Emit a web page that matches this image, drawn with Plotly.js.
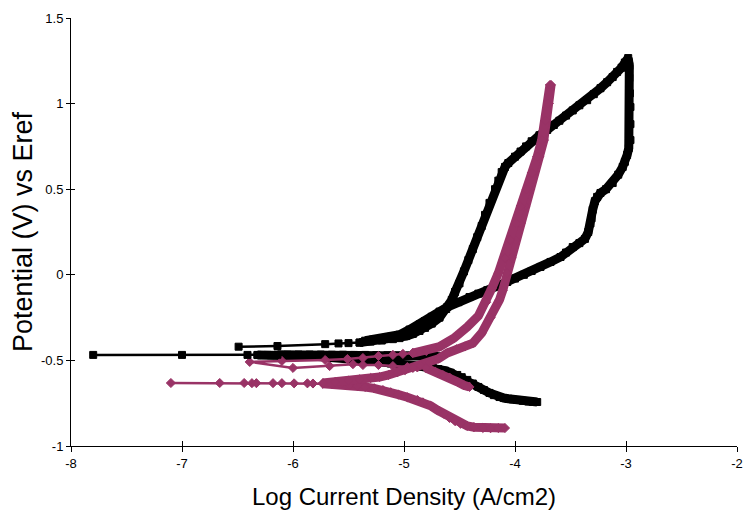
<!DOCTYPE html>
<html>
<head>
<meta charset="utf-8">
<script src="https://cdn.plot.ly/plotly-3.0.1.min.js"></script>
<style>html,body{margin:0;padding:0;background:#fff;}#chart{width:744px;height:518px;}</style>
</head>
<body>
<div id="chart"></div>
<script>
// ---------- Black series (squares) ----------
const blkCathX = [-3.80,-3.84,-3.88,-3.93,-3.98,-4.02,-4.06,-4.10,-4.14,-4.19,-4.23,-4.28,-4.33,-4.38,-4.43,-4.48,-4.52,-4.58,-4.63,-4.69,-4.74,-4.80,-4.85,-4.92,-5.00,-5.04,-5.12,-5.20,-5.30,-5.40,-5.50,-5.60,-5.70,-5.80,-5.90,-6.00,-6.10,-6.20,-6.32];
const blkCathY = [-0.743,-0.742,-0.740,-0.736,-0.731,-0.728,-0.724,-0.720,-0.714,-0.703,-0.690,-0.673,-0.655,-0.635,-0.614,-0.598,-0.585,-0.572,-0.560,-0.551,-0.544,-0.539,-0.535,-0.530,-0.527,-0.525,-0.518,-0.510,-0.502,-0.495,-0.489,-0.483,-0.479,-0.476,-0.474,-0.472,-0.471,-0.470,-0.469];

const blkEcorrX = [-7.80,-7.00,-6.41,-6.32,-6.23,-6.14];
const blkEcorrY = [-0.468,-0.468,-0.468,-0.468,-0.468,-0.467];

const blkFlatX = [-6.14,-6.05,-5.95,-5.85,-5.75,-5.65,-5.55,-5.45,-5.35,-5.25,-5.15,-5.05,-4.95,-4.85,-4.77,-4.69];
const blkFlatY = [-0.467,-0.467,-0.466,-0.466,-0.466,-0.467,-0.467,-0.468,-0.468,-0.469,-0.470,-0.471,-0.472,-0.473,-0.474,-0.476];

const blkUpperX = [-6.49,-6.14,-5.71,-5.59,-5.50,-5.40];
const blkUpperY = [-0.420,-0.416,-0.405,-0.401,-0.399,-0.396];

const blkLoopX = [-5.40,-5.30,-5.20,-5.10,-5.04,-4.98,-4.92,-4.86,-4.81,-4.75,-4.68,-4.62,-4.57,-4.54,-4.50,-4.46,-4.42,-4.38,-4.34,-4.30,-4.27,-4.23,-4.18,-4.15,-4.12,-4.09,-4.06,-4.00,-3.95,-3.90,-3.85,-3.78,-3.71,-3.65,-3.60,-3.54,-3.48,-3.42,-3.35,-3.29,-3.23,-3.17,-3.12,-3.08,-3.04,-3.01,-2.98,
  -2.97,-2.97,-2.965,-2.96,-2.96,-2.96,-2.975,-2.99,-3.01,-3.03,-3.07,-3.12,-3.18,-3.23,-3.26,-3.28,-3.30,-3.31,-3.32,-3.34,-3.37,-3.42,-3.48,-3.54,-3.59,-3.68,-3.77,-3.85,-3.92,-4.00,-4.07,-4.16,-4.25,-4.33,-4.41,-4.51,-4.61,-4.68,-4.75,-4.81,-4.86,-4.95,-5.04,-5.12,-5.20,-5.28,-5.35];
const blkLoopY = [-0.396,-0.390,-0.384,-0.376,-0.370,-0.358,-0.345,-0.328,-0.310,-0.285,-0.250,-0.200,-0.147,-0.100,-0.050,0.020,0.086,0.150,0.220,0.285,0.350,0.420,0.500,0.550,0.600,0.630,0.653,0.690,0.720,0.750,0.780,0.815,0.846,0.875,0.900,0.930,0.960,0.990,1.020,1.055,1.090,1.125,1.155,1.185,1.210,1.240,1.266,
  1.220,1.150,1.060,0.980,0.880,0.787,0.740,0.700,0.660,0.630,0.585,0.536,0.500,0.478,0.455,0.430,0.380,0.330,0.300,0.250,0.210,0.185,0.162,0.130,0.104,0.075,0.046,0.022,0.000,-0.022,-0.042,-0.066,-0.090,-0.110,-0.130,-0.160,-0.188,-0.215,-0.245,-0.270,-0.290,-0.320,-0.350,-0.362,-0.370,-0.378,-0.385];

// ---------- Maroon series (diamonds) ----------
const marEcorrX = [-7.10,-6.66,-6.44,-6.37,-6.33,-6.18,-6.10,-5.99,-5.87,-5.82,-5.73];
const marEcorrY = [-0.632,-0.632,-0.632,-0.633,-0.633,-0.633,-0.633,-0.634,-0.634,-0.635,-0.636];

const marCathX = [-5.73,-5.65,-5.57,-5.49,-5.42,-5.35,-5.27,-5.19,-5.12,-5.05,-4.97,-4.88,-4.83,-4.76,-4.70,-4.64,-4.59,-4.54,-4.49,-4.43,-4.37,-4.29,-4.22,-4.15,-4.09];
const marCathY = [-0.636,-0.638,-0.640,-0.644,-0.649,-0.655,-0.663,-0.673,-0.686,-0.700,-0.715,-0.731,-0.745,-0.765,-0.790,-0.812,-0.836,-0.855,-0.870,-0.883,-0.890,-0.895,-0.896,-0.895,-0.895];

const marFwdX = [-5.73,-5.62,-5.50,-5.40,-5.30,-5.22,-5.14,-5.06,-4.99,-4.92,-4.85,-4.77,-4.69,-4.61,-4.53,-4.45,-4.38,-4.30,-4.22,-4.14,-4.11,-4.07,-4.03,-3.995,-3.95,-3.91,-3.865,-3.83,-3.78,-3.74,-3.715,-3.695,-3.675];
const marFwdY = [-0.632,-0.626,-0.618,-0.610,-0.603,-0.597,-0.585,-0.570,-0.557,-0.544,-0.530,-0.515,-0.490,-0.457,-0.435,-0.418,-0.400,-0.340,-0.250,-0.147,-0.090,0.010,0.100,0.203,0.300,0.400,0.500,0.595,0.690,0.787,0.900,1.000,1.109];

const marRevX = [-3.685,-3.705,-3.725,-3.76,-3.80,-3.85,-3.895,-3.95,-3.99,-4.045,-4.09,-4.15,-4.21,-4.26,-4.33,-4.43,-4.55,-4.68,-4.80,-4.92];
const marRevY = [1.109,1.000,0.900,0.787,0.690,0.595,0.500,0.400,0.300,0.203,0.100,0.010,-0.080,-0.160,-0.240,-0.305,-0.370,-0.420,-0.445,-0.457];

const marRevEndX = [-4.92,-5.01,-5.10,-5.23,-5.37,-5.51,-5.71,-6.10,-6.39,-6.00,-5.67,-5.46,-5.37,-5.23,-5.10,-4.97,-4.88,-4.80];
const marRevEndY = [-0.457,-0.462,-0.468,-0.474,-0.486,-0.492,-0.498,-0.503,-0.509,-0.544,-0.533,-0.522,-0.527,-0.527,-0.533,-0.539,-0.541,-0.545];

const marTailX = [-4.80,-4.72,-4.65,-4.59,-4.52,-4.46,-4.41];
const marTailY = [-0.545,-0.565,-0.585,-0.600,-0.625,-0.645,-0.655];

const xTicks = [-8,-7,-6,-5,-4,-3,-2];
const yTicks = [-1,-0.5,0,0.5,1,1.5];

const BLACK = '#000000';
const MAROON = '#993366';

function seg(x, y, color, symbol, dense, extra) {
  return Object.assign({
    type: 'scatter', mode: 'lines+markers', x: x, y: y,
    line: {color: color, width: dense ? 9 : 2.5},
    marker: {color: color, symbol: symbol, size: 7, line: {color: color, width: 1}},
    hoverinfo: 'skip', showlegend: false, cliponaxis: false
  }, extra || {});
}

const traces = [
  seg(blkEcorrX, blkEcorrY, BLACK, 'square', false, {xaxis: 'x2', yaxis: 'y2'}),
  seg(blkUpperX, blkUpperY, BLACK, 'square', false),
  seg(blkCathX, blkCathY, BLACK, 'square', true),
  seg(blkFlatX, blkFlatY, BLACK, 'square', true),
  seg(blkLoopX, blkLoopY, BLACK, 'square', true),
  seg(marEcorrX, marEcorrY, MAROON, 'diamond', false),
  seg(marRevEndX, marRevEndY, MAROON, 'diamond', false),
  seg(marCathX, marCathY, MAROON, 'diamond', true),
  seg(marFwdX, marFwdY, MAROON, 'diamond', true),
  seg(marRevX, marRevY, MAROON, 'diamond', true),
  seg(marTailX, marTailY, MAROON, 'diamond', true)
];

const FONT = 'Liberation Sans, Arial, sans-serif';
const layout = {
  width: 744, height: 518,
  margin: {l: 71, r: 7, t: 18, b: 72},
  paper_bgcolor: '#ffffff', plot_bgcolor: '#ffffff',
  font: {family: FONT, color: '#000', size: 13},
  showlegend: false,
  hovermode: false,
  xaxis: {
    range: [-8, -2], tickvals: xTicks, ticktext: xTicks.map(String),
    ticks: 'outside', ticklen: 5, tickcolor: '#000', tickwidth: 1,
    showline: true, linecolor: '#000', linewidth: 1, mirror: false,
    showgrid: false, zeroline: false,
    tickfont: {family: FONT, size: 13, color: '#000'},
    title: {text: 'Log Current Density (A/cm2)', font: {family: FONT, size: 24, color: '#000'}, standoff: 18}
  },
  yaxis: {
    range: [-1, 1.5], tickvals: yTicks, ticktext: yTicks.map(String),
    ticks: 'outside', ticklen: 4, tickcolor: '#000', tickwidth: 1,
    showline: true, linecolor: '#000', linewidth: 1,
    showgrid: false, zeroline: false,
    tickfont: {family: FONT, size: 13, color: '#000'},
    title: {text: 'Potential (V) vs Eref', font: {family: FONT, size: 27, color: '#000'}, standoff: 0}
  },
  xaxis2: {
    overlaying: 'x', anchor: 'y2', range: [-8, -2], tickvals: xTicks,
    ticks: 'inside', ticklen: 5, tickcolor: '#000', showticklabels: false,
    showline: false, showgrid: false, zeroline: false
  },
  yaxis2: {
    overlaying: 'y', anchor: 'x2', range: [-1, 1.5], tickvals: yTicks,
    ticks: 'inside', ticklen: 4, tickcolor: '#000', showticklabels: false,
    showline: false, showgrid: false, zeroline: false
  }
};

Plotly.newPlot('chart', traces, layout, {displayModeBar: false, staticPlot: true});
</script>
</body>
</html>
